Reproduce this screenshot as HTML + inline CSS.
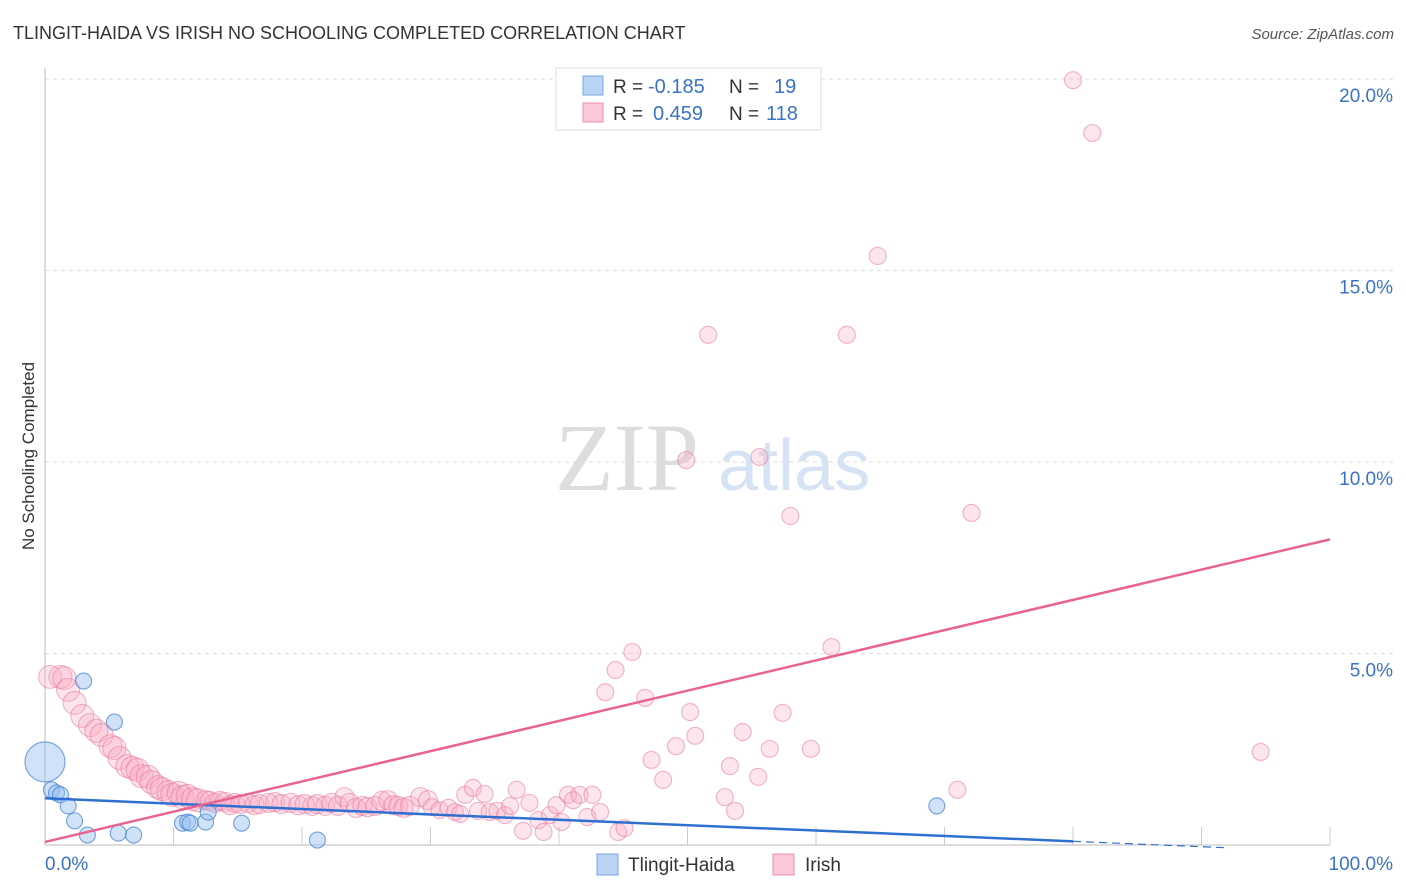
<!DOCTYPE html>
<html><head><meta charset="utf-8"><style>
body{margin:0;background:#fff;font-family:"Liberation Sans",sans-serif;}
svg{display:block}
</style></head><body>
<svg id="chart" width="1406" height="892" xmlns="http://www.w3.org/2000/svg">
<text x="13" y="39" font-size="18" fill="#333">TLINGIT-HAIDA VS IRISH NO SCHOOLING COMPLETED CORRELATION CHART</text>
<text x="1394" y="39" font-size="15" fill="#555" font-style="italic" text-anchor="end">Source: ZipAtlas.com</text>
<text x="34" y="456" font-size="17" fill="#333" text-anchor="middle" transform="rotate(-90 34 456)">No Schooling Completed</text>
<g>
<text x="555" y="490" font-family="Liberation Serif,serif" font-size="96" fill="#ddd">ZIP</text>
<text x="718" y="490" font-size="72" fill="#d6e3f5">atlas</text>
</g>
<g id="grid"></g>
<g id="axes"></g>
<g id="marks"></g>
<g id="lines"></g>
<g>
<rect x="556" y="68" width="265" height="62" fill="#fff" stroke="#ddd"/>
<rect x="583" y="76" width="20" height="19" fill="#b9d3f5" stroke="#7aa6e0"/>
<rect x="583" y="103" width="20" height="19" fill="#fbc8d8" stroke="#ee8fae"/>
<text x="613" y="93" font-size="19" fill="#333">R =</text>
<text x="648" y="93" font-size="20" fill="#3a72c9">-0.185</text>
<text x="729" y="93" font-size="19" fill="#333">N =</text>
<text x="774" y="93" font-size="20" fill="#3a72c9">19</text>
<text x="613" y="120" font-size="19" fill="#333">R =</text>
<text x="653" y="120" font-size="20" fill="#3a72c9">0.459</text>
<text x="729" y="120" font-size="19" fill="#333">N =</text>
<text x="766" y="120" font-size="20" fill="#3a72c9">118</text>
</g>
<g>
<rect x="597" y="854" width="21" height="21" fill="#b9d3f5" stroke="#7aa6e0"/>
<text x="628" y="871" font-size="19" fill="#333">Tlingit-Haida</text>
<rect x="773" y="854" width="21" height="21" fill="#fbc8d8" stroke="#ee8fae"/>
<text x="805" y="871" font-size="19" fill="#333">Irish</text>
</g>
</svg>
<script>
const blueX=[0,0.5,0.9,1.2,1.8,2.3,3.0,3.3,5.4,5.7,6.9,10.7,11.1,11.3,12.5,12.7,15.3,21.2,69.4];
const blueY=[2.17,1.44,1.36,1.31,1.02,0.63,4.28,0.26,3.21,0.31,0.26,0.57,0.60,0.57,0.60,0.86,0.57,0.13,1.02];
const pinkX=[0.4,1.2,1.5,1.8,2.3,2.9,3.5,4.0,4.4,5.1,5.4,5.8,6.4,6.8,7.2,7.5,8.0,8.3,8.8,9.1,9.6,9.9,10.4,10.7,11.1,11.5,11.9,12.5,12.8,13.2,13.6,14.0,14.4,14.8,15.2,15.8,16.3,16.7,17.4,17.9,18.4,19.1,19.7,20.2,20.8,21.2,21.8,22.3,22.8,23.3,23.7,24.2,24.7,25.1,25.7,26.2,26.7,27.1,27.5,27.9,28.4,29.2,29.8,30.1,30.7,31.4,31.9,32.3,32.7,33.3,33.7,34.2,34.6,35.2,35.8,36.2,36.7,37.2,37.7,38.4,38.8,39.3,39.8,40.2,40.7,41.1,41.6,42.2,42.6,43.2,43.6,44.4,44.6,45.1,45.7,46.7,47.2,48.1,49.1,50.2,50.6,51.6,49.9,53.3,52.9,53.7,54.3,55.5,55.6,56.4,57.4,58.0,59.6,61.2,62.4,64.8,71.0,72.1,80.0,81.5,94.6];
const pinkY=[4.39,4.39,4.36,4.05,3.71,3.37,3.13,2.98,2.87,2.58,2.53,2.27,2.06,2.01,1.96,1.80,1.78,1.64,1.51,1.46,1.38,1.31,1.36,1.25,1.28,1.20,1.17,1.17,1.15,1.10,1.15,1.12,1.04,1.10,1.07,1.10,1.04,1.07,1.10,1.12,1.07,1.10,1.04,1.07,1.02,1.07,1.02,1.10,1.02,1.25,1.10,0.97,1.02,0.99,1.02,1.15,1.17,1.04,1.02,0.97,1.02,1.25,1.17,0.99,0.91,0.97,0.86,0.81,1.31,1.49,0.89,1.33,0.86,0.89,0.78,1.02,1.44,0.37,1.10,0.65,0.34,0.78,1.04,0.60,1.31,1.17,1.31,0.73,1.31,0.86,3.99,4.57,0.34,0.44,5.04,3.84,2.22,1.70,2.58,3.47,2.85,13.32,10.05,2.06,1.25,0.89,2.95,1.78,10.13,2.51,3.45,8.59,2.51,5.17,13.32,15.38,1.44,8.67,19.97,18.59,2.43];
const yTicks=[5,10,15,20];
const yTickLabels=["5.0%","10.0%","15.0%","20.0%"];
const xTicks=[10,20,30,40,50,60,70,80,90,100];
const blueTrend=[1.22,-0.185];
const pinkTrend=[0.08,7.98];

const X0=45,X1=1330,Y0=845,YPER=38.3;
const sx=v=>X0+(X1-X0)*v/100;
const sy=v=>Y0-v*YPER;
const NS="http://www.w3.org/2000/svg";
function mk(tag,attrs,parent){const e=document.createElementNS(NS,tag);for(const k in attrs)e.setAttribute(k,attrs[k]);parent.appendChild(e);return e;}
const grid=document.getElementById('grid'),axes=document.getElementById('axes'),marks=document.getElementById('marks'),lines=document.getElementById('lines');
yTicks.forEach((t,i)=>{
  const l=mk('line',{x1:X0,x2:1393,y1:sy(t),y2:sy(t),stroke:'#ddd','stroke-dasharray':'4 4'},grid);
  
  
  const tx=mk('text',{x:1393,y:sy(t)+23,'font-size':19,fill:'#3a72c9','text-anchor':'end'},axes);
  tx.textContent=yTickLabels[i];
  
  
});
const ya=mk('line',{x1:X0,x2:X0,y1:68,y2:Y0,stroke:'#bbb'},axes);


const xa=mk('line',{x1:X0,x2:X1,y1:Y0,y2:Y0,stroke:'#bbb'},axes);


xTicks.forEach(t=>{
  const l=mk('line',{x1:sx(t),x2:sx(t),y1:Y0-18,y2:Y0,stroke:'#ccc'},axes);
  
  
});
const xl0=mk('text',{x:45,y:870,'font-size':19,fill:'#3a72c9'},axes);xl0.textContent='0.0%';


const xl1=mk('text',{x:1393,y:870,'font-size':19,fill:'#3a72c9','text-anchor':'end'},axes);xl1.textContent='100.0%';



pinkX.forEach((x,i)=>{
  const r=x<12?11.5:(x<30?9.5:8.5);
  const c=mk('circle',{cx:sx(x),cy:sy(pinkY[i]),r:r,fill:'rgba(248,170,195,0.3)',stroke:'rgba(232,120,155,0.55)','stroke-width':1.1},marks);
  
  
});
blueX.forEach((x,i)=>{
  const r=i===0?20:8;
  const c=mk('circle',{cx:sx(x),cy:sy(blueY[i]),r:r,fill:'rgba(150,190,240,0.45)',stroke:'rgba(60,125,210,0.7)','stroke-width':1.1},marks);
  
  
});
const by=x=>blueTrend[0]+(blueTrend[1]-blueTrend[0])*x/100;
const bl=mk('line',{x1:sx(0),y1:sy(by(0)),x2:sx(80),y2:sy(by(80)),stroke:'#2f6fd0','stroke-width':2.5},lines);


const bd=mk('line',{x1:sx(80),y1:sy(by(80)),x2:sx(92),y2:sy(by(92)),stroke:'#2f6fd0','stroke-width':1.2,'stroke-dasharray':'8 5'},lines);


const pl=mk('line',{x1:sx(0),y1:sy(pinkTrend[0]),x2:sx(100),y2:sy(pinkTrend[1]),stroke:'#e8648f','stroke-width':2.5},lines);


</script>
</body></html>
